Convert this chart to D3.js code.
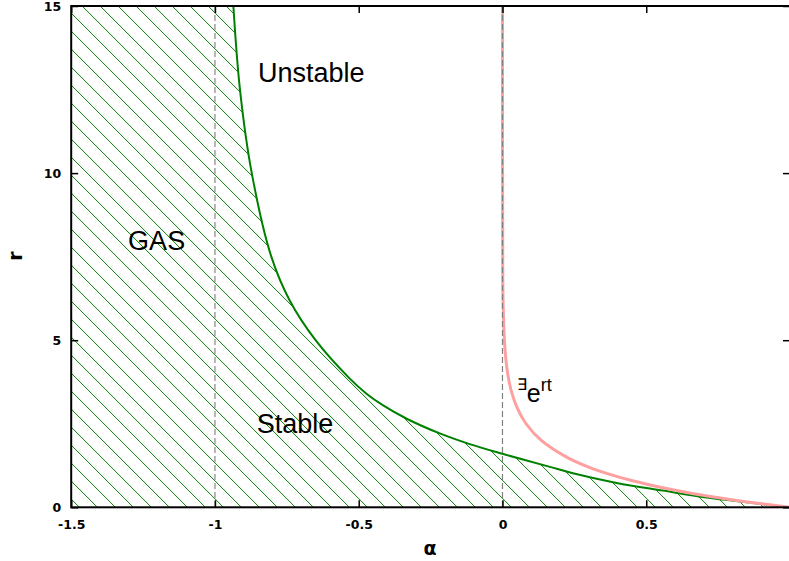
<!DOCTYPE html>
<html>
<head>
<meta charset="utf-8">
<script src="https://cdn.jsdelivr.net/npm/d3@7"></script>
<style>
  body { margin: 0; background: #fff; }
  svg { display: block; font-family: 'Liberation Sans', Arial, sans-serif; }
</style>
</head>
<body>
<div id="graf"></div>
<script>
// Diagrama de estabilidad: r contra alfa

// ticks de los ejes (el 1 queda fuera del cuadro, sin etiqueta)
alphaTicks = [-1.5, -1, -0.5, 0, 0.5, 1]
alphaTickLabels = ['-1.5', '-1', '-0.5', '0', '0.5', '']
rTicks = [0, 5, 10, 15]

// frontera de estabilidad (verde)
greenAlpha = [-0.936, -0.913, -0.872, -0.804, -0.740, -0.650, -0.531, -0.473, -0.415, -0.333,
              -0.218, -0.114, 0.0, 0.165, 0.245, 0.397, 0.557, 0.710, 0.870, 1.0]
greenR     = [15.0, 12.5, 10.0, 7.5, 6.19, 5.0, 3.85, 3.40, 3.05, 2.65,
              2.21, 1.89, 1.6, 1.21, 1.02, 0.73, 0.5, 0.29, 0.13, 0.0]

// curva de existencia de e^{rt} (rosa)
pinkAlpha = [0.0002, 0.0009, 0.0025, 0.0067, 0.011, 0.018, 0.030, 0.050, 0.082, 0.135,
             0.223, 0.30, 0.368, 0.449, 0.549, 0.67, 0.78, 0.88, 1.0]
pinkR     = [15.0, 7.0, 6.0, 5.0, 4.5, 4.0, 3.5, 3.0, 2.5, 2.0,
             1.5, 1.2, 1.0, 0.8, 0.6, 0.4, 0.25, 0.13, 0.0]

// líneas verticales punteadas
dashAlpha = [-1, 0]

// etiquetas de regiones
regionText  = ['Unstable', 'GAS', 'Stable']
regionAlpha = [-0.85, -1.302, -0.855]
regionR     = [12.72, 7.69, 2.22]

ancho_total = 789
alto_total  = 561

margins = { top: 6, left: 71.2, right: -1, bottom: 53.7 }
ancho = ancho_total - margins.left - margins.right
alto  = alto_total - margins.top - margins.bottom

svg = d3.select('#graf').append('svg')
        .attr('width', ancho_total)
        .attr('height', alto_total)

g = svg.append('g')
       .attr('transform', `translate(${margins.left}, ${margins.top})`)

x = d3.scaleLinear().domain([-1.5, 1]).range([0, ancho])
y = d3.scaleLinear().domain([0, 15]).range([alto, 0])

// patrón de rayado verde
defs = svg.append('defs')
pat = defs.append('pattern')
  .attr('id', 'rayado')
  .attr('patternUnits', 'userSpaceOnUse')
  .attr('width', 18)
  .attr('height', 18)
  .attr('x', 11.7 + margins.left)
pat.append('path')
  .attr('d', 'M-2,-2 L20,20 M-20,-2 L2,20 M16,-2 L38,20')
  .attr('stroke', '#008000')
  .attr('stroke-width', 1)

defs.append('clipPath')
  .attr('id', 'clip')
  .append('rect')
  .attr('width', ancho)
  .attr('height', alto)

greenPts = greenAlpha.map((a, i) => [a, greenR[i]])
pinkPts  = pinkAlpha.map((a, i) => [a, pinkR[i]])

linea = d3.line()
  .x(d => x(d[0]))
  .y(d => y(d[1]))
  .curve(d3.curveCatmullRom.alpha(0.5))

// región rayada (GAS + estable): esquina superior izquierda, frontera, eje
g.append('path')
  .attr('d', `M${x(-1.5)},${y(15)}L` + linea(greenPts).slice(1)
        + `L${x(1)},${y(0)}L${x(-1.5)},${y(0)}Z`)
  .attr('fill', 'url(#rayado)')
  .attr('clip-path', 'url(#clip)')

// frontera verde
g.append('path')
  .attr('d', linea(greenPts))
  .attr('fill', 'none')
  .attr('stroke', '#008000')
  .attr('stroke-width', 2)
  .attr('clip-path', 'url(#clip)')

// curva rosa
g.append('path')
  .attr('d', linea(pinkPts))
  .attr('fill', 'none')
  .attr('stroke', '#ffa0a0')
  .attr('stroke-width', 3)
  .attr('clip-path', 'url(#clip)')

// verticales punteadas
dashAlpha.forEach((a, i) => {
  g.append('line')
    .attr('x1', x(a)).attr('x2', x(a))
    .attr('y1', 0).attr('y2', alto)
    .attr('stroke', i == 0 ? '#a0a0a0' : '#808080')
    .attr('stroke-width', i == 0 ? 1.5 : 1.2)
    .attr('stroke-dasharray', '6,3')
})

// ejes con ticks hacia adentro, en los cuatro lados
xAxis = d3.axisBottom(x).tickValues(alphaTicks)
          .tickFormat((d, i) => alphaTickLabels[i])
          .tickSizeInner(-7).tickSizeOuter(0).tickPadding(13)
xAxisT = d3.axisTop(x).tickValues(alphaTicks).tickFormat('')
          .tickSizeInner(-7).tickSizeOuter(0)
yAxis = d3.axisLeft(y).tickValues(rTicks).tickFormat(d3.format('d'))
          .tickSizeInner(-7).tickSizeOuter(0).tickPadding(10)
yAxisR = d3.axisRight(y).tickValues(rTicks).tickFormat('')
          .tickSizeInner(-7).tickSizeOuter(0)

g.append('g').attr('transform', `translate(0,${alto})`).call(xAxis)
g.append('g').call(xAxisT)
g.append('g').call(yAxis)
g.append('g').attr('transform', `translate(${ancho},0)`).call(yAxisR)

g.selectAll('.tick line').attr('stroke', '#000').attr('stroke-width', 1.5)
g.selectAll('.domain').remove()
g.selectAll('.tick text')
  .style('font-family', '"DejaVu Sans", sans-serif')
  .style('font-weight', 'bold')
  .style('font-size', '12.5px')
  .attr('fill', '#000')

// marco
g.append('rect')
  .attr('width', ancho)
  .attr('height', alto)
  .attr('fill', 'none')
  .attr('stroke', '#000')
  .attr('stroke-width', 2)

// etiquetas de regiones
regionText.forEach((t, i) => {
  g.append('text')
    .attr('x', x(regionAlpha[i]))
    .attr('y', y(regionR[i]))
    .attr('font-size', '27px')
    .attr('fill', '#000')
    .text(t)
})

// etiqueta ∃e^{rt}
ex = g.append('text')
  .attr('x', x(0.05))
  .attr('y', y(3.16))
  .attr('font-size', '25px')
  .attr('fill', '#000')
ex.append('tspan').attr('font-size', '16px').attr('dy', -12).text('∃')
ex.append('tspan').attr('dy', 12).text('e')
ex.append('tspan').attr('font-size', '18px').attr('dy', -11).text('rt')

// títulos de ejes
svg.append('text')
  .attr('x', 430)
  .attr('y', 555)
  .attr('text-anchor', 'middle')
  .attr('font-family', 'DejaVu Sans, sans-serif')
  .attr('font-size', '19px')
  .attr('font-weight', 'bold')
  .text('α')

svg.append('text')
  .attr('transform', 'translate(22,256) rotate(-90)')
  .attr('text-anchor', 'middle')
  .attr('font-family', 'DejaVu Sans, sans-serif')
  .attr('font-size', '19px')
  .attr('font-weight', 'bold')
  .text('r')
</script>
</body>
</html>
